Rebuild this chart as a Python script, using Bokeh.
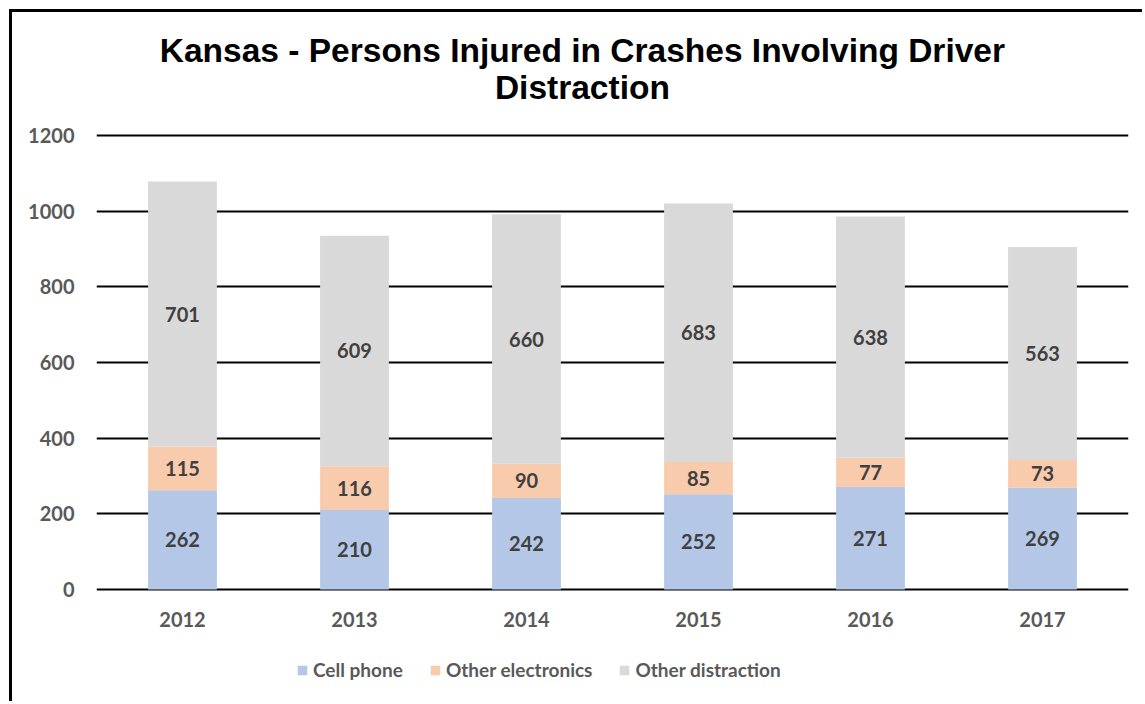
from bokeh.plotting import figure
from bokeh.models import (Range1d, FixedTicker, ColumnDataSource, LabelSet, Legend, LegendItem, Label)
from bokeh.core.properties import value
from bokeh.embed import file_html
from bokeh.resources import INLINE

title_lines = ["Kansas - Persons Injured in Crashes Involving Driver", "Distraction"]
years = ["2012", "2013", "2014", "2015", "2016", "2017"]
cell_phone = [262, 210, 242, 252, 271, 269]
other_electronics = [115, 116, 90, 85, 77, 73]
other_distraction = [701, 609, 660, 683, 638, 563]
series_names = ["Cell phone", "Other electronics", "Other distraction"]
colors = ["#B4C7E7", "#F8CBAD", "#D9D9D9"]
y_ticks = [0, 200, 400, 600, 800, 1000, 1200]

FONT = "Lato"
xs = list(range(len(years)))

p = figure(width=1133, height=692, x_range=Range1d(-0.5, 5.5), y_range=Range1d(-304, 1525),
           output_backend="svg", toolbar_location=None,
           min_border_left=84, min_border_right=17, min_border_top=0, min_border_bottom=0)
p.styles = {"border-left": "3px solid black", "border-top": "3px solid black",
            "margin-left": "9px", "margin-top": "9px"}
p.outline_line_color = None
p.background_fill_color = "white"
p.border_fill_color = "white"

src = ColumnDataSource(dict(x=xs, cp=cell_phone, oe=other_electronics, od=other_distraction))
rs = p.vbar_stack(["cp", "oe", "od"], x="x", width=0.4, color=colors, source=src, line_color=None)

for vals, base in [
        (cell_phone, [0] * 6),
        (other_electronics, cell_phone),
        (other_distraction, [a + b for a, b in zip(cell_phone, other_electronics)])]:
    ys = [b + v / 2 for v, b in zip(vals, base)]
    ls = ColumnDataSource(dict(x=xs, y=ys, t=[str(v) for v in vals]))
    p.add_layout(LabelSet(x="x", y="y", text="t", source=ls, text_align="center",
                          text_baseline="middle", text_font=value(FONT), text_font_style="bold",
                          text_font_size="20px", text_color="#404040"))

# category (year) labels under the bars
ysrc = ColumnDataSource(dict(x=xs, y=[-79] * len(xs), t=years))
p.add_layout(LabelSet(x="x", y="y", text="t", source=ysrc, text_align="center",
                      text_baseline="middle", text_font=value(FONT), text_font_style="bold",
                      text_font_size="20px", text_color="#595959"))

p.xgrid.grid_line_color = None
p.ygrid.grid_line_color = "black"
p.ygrid.grid_line_width = 2
p.ygrid.ticker = FixedTicker(ticks=y_ticks)
p.yaxis.ticker = FixedTicker(ticks=y_ticks)
p.xaxis.visible = False
ax = p.yaxis
ax.axis_line_color = None
ax.major_tick_line_color = None
ax.minor_tick_line_color = None
ax.major_label_text_font = FONT
ax.major_label_text_font_style = "bold"
ax.major_label_text_font_size = "20px"
ax.major_label_text_color = "#595959"
ax.major_label_standoff = 16

legend = Legend(items=[LegendItem(label=n, renderers=[r]) for n, r in zip(series_names, rs)],
                orientation="horizontal", location=(200, 23), padding=0, margin=0,
                spacing=26, label_standoff=5, glyph_width=12, glyph_height=12,
                border_line_color=None, background_fill_alpha=0,
                label_text_font=FONT, label_text_font_style="bold",
                label_text_font_size="19px", label_text_color="#595959")
p.add_layout(legend, "center")

p.title.visible = False
for txt, ty in zip(title_lines, [1425, 1327]):
    p.add_layout(Label(x=2.325, y=ty, text=txt, text_align="center", text_baseline="middle",
                       text_font="Liberation Sans", text_font_style="bold",
                       text_font_size="33.5px", text_color="black"))

open("out.html", "w").write(file_html(p, INLINE))
